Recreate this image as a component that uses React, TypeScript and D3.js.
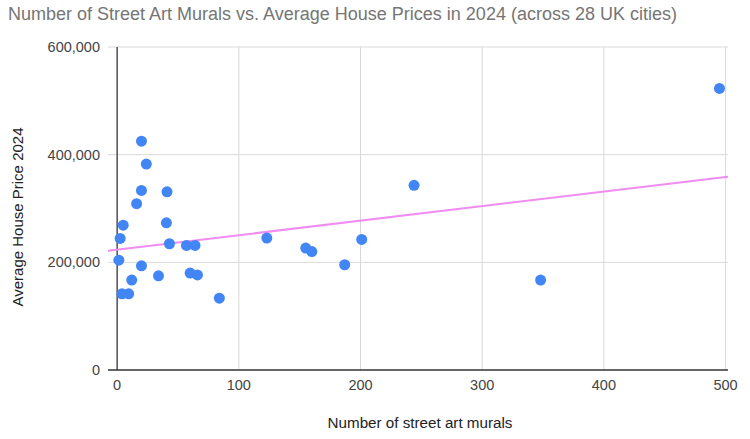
import React from "react";
import * as d3 from "d3";

const title = "Number of Street Art Murals vs. Average House Prices in 2024 (across 28 UK cities)";
const xAxisTitle = "Number of street art murals";
const yAxisTitle = "Average House Price 2024";

const murals = [495, 348, 123, 155, 160, 187, 201, 244, 20, 24, 20, 16, 41, 5, 2.5, 40.5, 43, 57, 64, 1.4, 20, 34, 60, 66, 12, 4, 9.5, 84];
const prices = [523000, 167000, 245000, 226500, 220000, 195500, 242500, 343000, 425000, 382500, 333500, 309000, 331000, 269000, 244500, 273500, 234500, 231500, 231500, 204000, 193500, 175000, 180000, 176500, 167000, 141500, 141500, 133500];

const xTicks = [0, 100, 200, 300, 400, 500];
const yTicks = [0, 200000, 400000, 600000];

const W = 750;
const H = 439;
const left = 108;
const right = 728;
const top = 47;
const bottom = 370;

export default function App() {
  const x = d3.scaleLinear().domain([-7.5, 502]).range([left, right]);
  const y = d3.scaleLinear().domain([0, 600000]).range([bottom, top]);
  const fmt = d3.format(",");

  // least-squares trendline
  const mx = d3.mean(murals) as number;
  const my = d3.mean(prices) as number;
  let sxy = 0, sxx = 0;
  murals.forEach((v, i) => { sxy += (v - mx) * (prices[i] - my); sxx += (v - mx) * (v - mx); });
  const slope = sxy / sxx;
  const intercept = my - slope * mx;
  const [d0, d1] = x.domain();
  const line = d3.line<number>().x((d) => x(d)).y((d) => y(intercept + slope * d));

  return (
    <svg width={W} height={H} style={{ position: "absolute", left: 0, top: 0, background: "#fff" }} fontFamily="Arial, 'Liberation Sans', sans-serif">
      <text x={8} y={20} fontSize={18} fill="#757575">{title}</text>
      {yTicks.map((t) => (
        <g key={"y" + t}>
          {t !== 0 && <line x1={left} x2={right} y1={y(t)} y2={y(t)} stroke="#d9d9d9" strokeWidth={1} />}
          <text x={100} y={y(t) + 5} fontSize={14.5} fill="#444" textAnchor="end">{fmt(t)}</text>
        </g>
      ))}
      {xTicks.map((t) => (
        <g key={"x" + t}>
          {t !== 0 && <line x1={x(t)} x2={x(t)} y1={top} y2={bottom} stroke="#d9d9d9" strokeWidth={1} />}
          <text x={x(t)} y={390} fontSize={14.5} fill="#444" textAnchor="middle">{t}</text>
        </g>
      ))}
      <line x1={x(0)} x2={x(0)} y1={top} y2={bottom} stroke="#333" strokeWidth={1.3} />
      <line x1={left} x2={right} y1={y(0)} y2={y(0)} stroke="#333" strokeWidth={1.3} />
      <path d={line([d0, d1]) || ""} fill="none" stroke="#f08cf2" strokeWidth={2} />
      {murals.map((m, i) => (
        <circle key={i} cx={x(m)} cy={y(prices[i])} r={5.5} fill="#4285f4" />
      ))}
      <text x={420} y={428} fontSize={15.2} fill="#222" textAnchor="middle">{xAxisTitle}</text>
      <text transform={`translate(23,217) rotate(-90)`} fontSize={15} fill="#222" textAnchor="middle">{yAxisTitle}</text>
    </svg>
  );
}
